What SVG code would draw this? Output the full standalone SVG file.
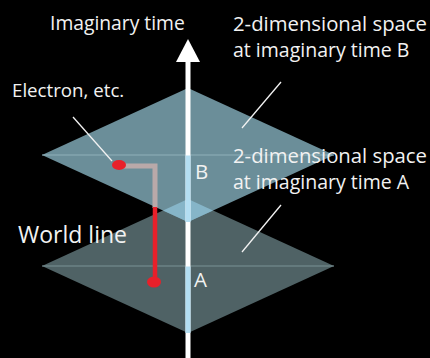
<svg xmlns="http://www.w3.org/2000/svg" width="430" height="358" viewBox="0 0 430 358">
<style>
.t{font-family:"Open Sans","Liberation Sans",sans-serif;fill:#f2f2f2}
.ptr{stroke:#f2f2f2;stroke-width:1.3;fill:none}
</style>
<rect width="430" height="358" fill="#000"/>
<g id="plane-A">
<polygon points="188,199 334,266 188,333 42,266" fill="#4f6265"/>
<line x1="42" y1="266" x2="334" y2="266" stroke="#7b9195" stroke-width="1.2"/>
</g>
<g id="plane-B">
<polygon points="188,88 334,155 188,222 42,155" fill="#6b8e99"/>
<line x1="42" y1="155" x2="334" y2="155" stroke="#8fb0ba" stroke-width="1.2"/>
<polygon points="188,199 213,210.5 188,222 163,210.5" fill="#86b5c8"/>
</g>
<g id="axis">
<rect x="185.5" y="60" width="5" height="298" fill="#fff"/>
<polygon points="188,39 200,62 176,62" fill="#fff"/>
<rect x="185.5" y="155.5" width="5" height="66.5" fill="#b3def2"/>
<rect x="185.5" y="266.5" width="5" height="66.5" fill="#b3def2"/>
</g>
<g id="connectors">
<polyline points="119,166 155,166 155,208" fill="none" stroke="#b9a9a9" stroke-width="5"/>
<line x1="155" y1="207" x2="155" y2="282" stroke="#e8202a" stroke-width="4.5"/>
<line class="ptr" x1="73" y1="117" x2="112" y2="161"/>
<line class="ptr" x1="281" y1="82" x2="242" y2="128"/>
<line class="ptr" x1="281" y1="205" x2="242" y2="252"/>
</g>
<g id="electron">
<ellipse cx="119" cy="165" rx="7" ry="5" fill="#e8202a"/>
</g>
<g id="electron-A">
<ellipse cx="154" cy="282" rx="7" ry="5.5" fill="#e8202a"/>
</g>
<g id="labels">
<text class="t" x="50" y="30" font-size="19.3">Imaginary time</text>
<text class="t" x="12" y="97" font-size="18.7">Electron, etc.</text>
<text class="t" x="233" y="31" font-size="19.5" textLength="194" lengthAdjust="spacingAndGlyphs">2-dimensional space</text>
<text class="t" x="233" y="57" font-size="19.5">at imaginary time B</text>
<text class="t" x="233" y="163" font-size="19.5" textLength="194" lengthAdjust="spacingAndGlyphs">2-dimensional space</text>
<text class="t" x="233" y="189" font-size="19.5">at imaginary time A</text>
<text class="t" x="18" y="243" font-size="23">World line</text>
<text class="t" x="195" y="179" font-size="20.5">B</text>
<text class="t" x="194" y="287" font-size="20.5">A</text>
</g>
</svg>
